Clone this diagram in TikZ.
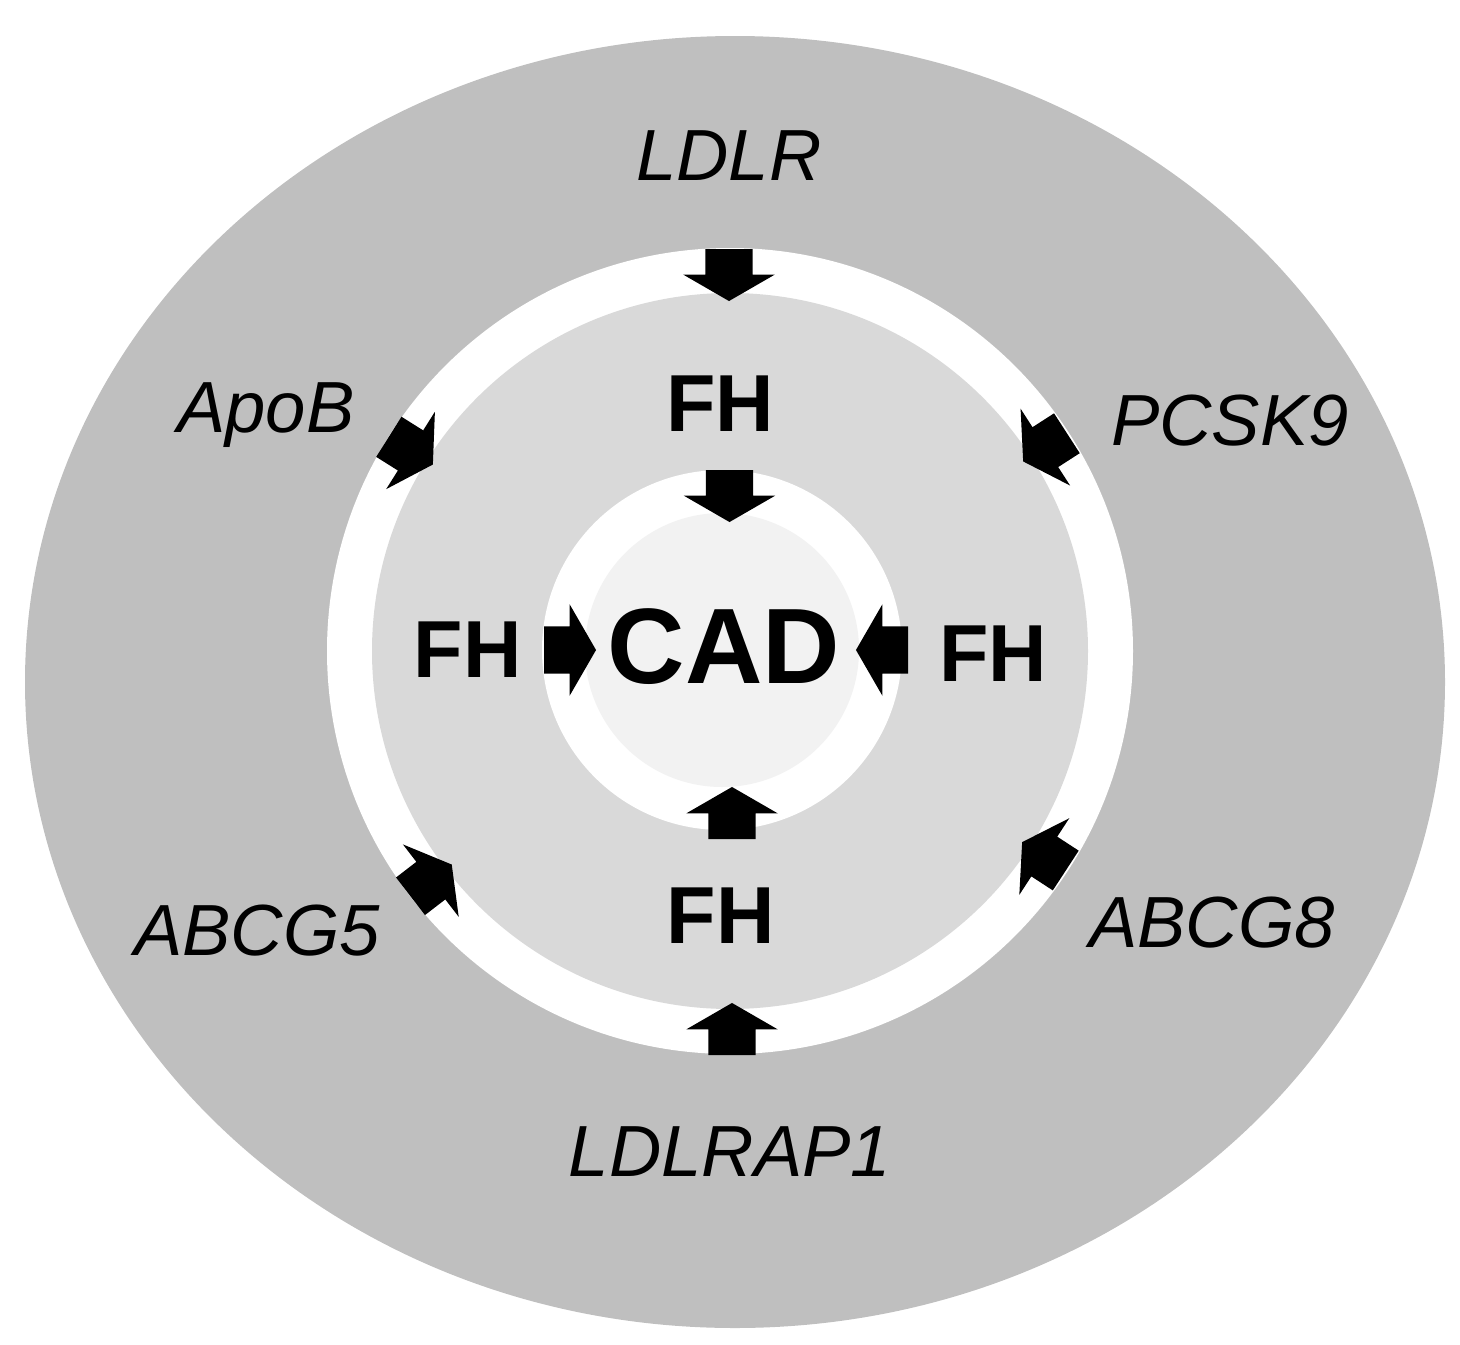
\documentclass[tikz,border=0pt]{standalone}
\usepackage{fontspec}
\setmainfont{Liberation Sans}
\usetikzlibrary{shapes.arrows}
\definecolor{ringdark}{gray}{0.75}
\definecolor{ringmid}{gray}{0.85}
\definecolor{ringlight}{gray}{0.95}
\begin{document}
\begin{tikzpicture}[x=0.01cm, y=0.01cm,
    blockarrow/.style={single arrow, fill=black, inner xsep=0pt, inner ysep=0.23cm,
      outer sep=0pt, minimum height=0.52cm, minimum width=0.9cm,
      single arrow head extend=0.22cm, single arrow tip angle=120, anchor=tail},
    gene/.style={font=\fontsize{20.6}{24}\selectfont\itshape, anchor=base, inner sep=0pt},
    fh/.style={font=\fontsize{23}{27}\selectfont\bfseries, anchor=base, inner sep=0pt}]
  \useasboundingbox (0,0) rectangle (1460,-1345);
  % rings
  \fill[ringdark] (735,-682) ellipse [x radius=710, y radius=646];
  \fill[white] (730,-651) circle [radius=403];
  \fill[ringmid] (730,-651) circle [radius=358];
  \fill[white] (722,-650) circle [radius=180];
  \fill[ringlight] (722,-650) circle [radius=137];
  \coordinate (ring) at (729,-651);
  % genes
  \node[gene] (ldlr) at (729,-180) {LDLR};
  \node[gene] (apob) at (266,-432) {ApoB};
  \node[gene] (pcsk9) at (1230,-445) {PCSK9};
  \node[gene] (abcg5) at (257,-955) {ABCG5};
  \node[gene] (abcg8) at (1212,-947) {ABCG8};
  \node[gene] (ldlrap1) at (730,-1176) {LDLRAP1};
  % outer arrows
  \node[blockarrow, rotate=-90] (a1) at (729,-249) {};
  \node[blockarrow, rotate=-32.2] (a2) at ([shift={(147.8:402)}]ring) {};
  \node[blockarrow, rotate=212.8] (a3) at ([shift={(32.8:402)}]ring) {};
  \node[blockarrow, rotate=37.6] (a4) at ([shift={(217.6:402)}]ring) {};
  \node[blockarrow, rotate=146.9] (a5) at ([shift={(-33.1:402)}]ring) {};
  \node[blockarrow, rotate=90] (a6) at (732,-1055) {};
  % FH
  \node[fh] (fhN) at (720,-431) {FH};
  \node[fh] (fhW) at (467.5,-677) {FH};
  \node[fh] (fhE) at (993,-681) {FH};
  \node[fh] (fhS) at (720.5,-943) {FH};
  % inner arrows
  \node[blockarrow, rotate=-90] (b1) at (729.5,-470) {};
  \node[blockarrow, rotate=0] (b2) at (544,-650) {};
  \node[blockarrow, rotate=180] (b3) at (908,-650) {};
  \node[blockarrow, rotate=90] (b4) at (732,-839) {};
  % CAD
  \node[font=\fontsize{30.5}{36}\selectfont\bfseries, anchor=base, inner sep=0pt]
    (cad) at (724,-683) {CAD};
\end{tikzpicture}
\end{document}
